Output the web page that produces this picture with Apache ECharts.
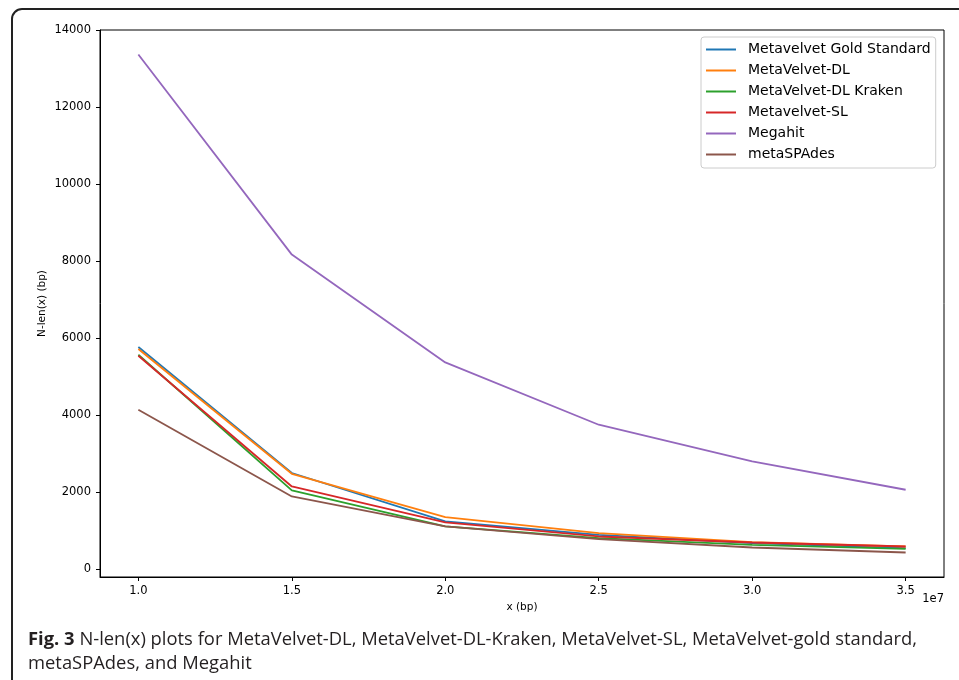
<!DOCTYPE html>
<html><head><meta charset="utf-8">
<script src="https://cdn.jsdelivr.net/npm/echarts@6/dist/echarts.min.js"></script>
<style>html,body{margin:0;padding:0;background:#fff}#c{width:959px;height:680px}</style>
</head><body><div id="c"></div>
<script>
// ---- data ----
const xValues = [1.0e7, 1.5e7, 2.0e7, 2.5e7, 3.0e7, 3.5e7];
const goldStandard = [5770, 2500, 1242, 895, 680, 550];
const metaVelvetDL = [5720, 2480, 1355, 940, 706, 592];
const dlKraken = [5570, 2050, 1112, 810, 636, 532];
const metaVelvetSL = [5545, 2150, 1216, 852, 696, 592];
const megahit = [13364, 8170, 5371, 3753, 2800, 2065];
const metaSPAdes = [4143, 1891, 1112, 784, 566, 436];
const seriesNames = ['Metavelvet Gold Standard', 'MetaVelvet-DL', 'MetaVelvet-DL Kraken', 'Metavelvet-SL', 'Megahit', 'metaSPAdes'];
const xTickValues = [1.0e7, 1.5e7, 2.0e7, 2.5e7, 3.0e7, 3.5e7];
const yTickValues = [0, 2000, 4000, 6000, 8000, 10000, 12000, 14000];
const xAxisTitle = 'x (bp)';
const yAxisTitle = 'N-len(x) (bp)';
const offsetText = '1e7';
const captionBold = 'Fig. 3';
const captionLine1 = ' N-len(x) plots for MetaVelvet-DL, MetaVelvet-DL-Kraken, MetaVelvet-SL, MetaVelvet-gold standard,';
const captionLine2 = 'metaSPAdes, and Megahit';

const colors = ['#1f77b4', '#ff7f0e', '#2ca02c', '#d62728', '#9467bd', '#8c564b'];
const allSeries = [goldStandard, metaVelvetDL, dlKraken, metaVelvetSL, megahit, metaSPAdes];

// caption condensing
const capFont = '"Open Sans", sans-serif';
const capSize = 18.5;
const cv = document.createElement('canvas').getContext('2d');
cv.font = 'bold ' + capSize + 'px ' + capFont;
const wB = cv.measureText(captionBold).width;
cv.font = capSize + 'px ' + capFont;
const wR = cv.measureText(captionLine1).width;
const capScale = 889 / (wB + wR);

const chart = echarts.init(document.getElementById('c'), null, {renderer: 'canvas'});
const tickFont = {fontFamily: 'DejaVu Sans', fontSize: 11.5, color: '#000'};

chart.setOption({
  animation: false,
  backgroundColor: '#fff',
  color: colors,
  grid: {left: 100, top: 30, right: 15, bottom: 103, show: true, borderColor: '#000', borderWidth: 1},
  legend: {
    orient: 'vertical', left: 701, top: 37,
    padding: [5, 5, 6, 5],
    icon: 'rect', itemWidth: 30, itemHeight: 2, itemGap: 6,
    backgroundColor: 'rgba(255,255,255,0.85)', borderColor: '#cccccc', borderWidth: 1, borderRadius: 3,
    textStyle: {fontFamily: 'DejaVu Sans', fontSize: 14, color: '#000', lineHeight: 15, padding: [0, 0, 0, 7]},
    data: seriesNames
  },
  xAxis: {
    type: 'value', min: 0.875e7, max: 3.625e7,
    splitLine: {show: false},
    axisLine: {show: true, onZero: false, lineStyle: {color: '#000', width: 1}},
    axisTick: {show: true, length: 4, lineStyle: {color: '#000'}, customValues: xTickValues},
    axisLabel: Object.assign({margin: 8, customValues: xTickValues, formatter: v => (v / 1e7).toFixed(1)}, tickFont),
    name: xAxisTitle, nameLocation: 'middle', nameGap: 25, nameMoveOverlap: false,
    nameTextStyle: {fontFamily: 'DejaVu Sans', fontSize: 10.5, color: '#000'}
  },
  yAxis: {
    type: 'value', min: -200, max: 14000,
    splitLine: {show: false},
    axisLine: {show: true, onZero: false, lineStyle: {color: '#000', width: 1}},
    axisTick: {show: true, length: 4, lineStyle: {color: '#000'}, customValues: yTickValues},
    axisLabel: Object.assign({margin: 9, customValues: yTickValues, formatter: v => String(v)}, tickFont),
    name: yAxisTitle, nameLocation: 'middle', nameGap: 52, nameMoveOverlap: false,
    nameTextStyle: {fontFamily: 'DejaVu Sans', fontSize: 10.5, color: '#000'}
  },
  series: allSeries.map((arr, i) => ({
    name: seriesNames[i], type: 'line', symbol: 'none',
    lineStyle: {width: 1.8, color: colors[i]},
    itemStyle: {color: colors[i]},
    data: arr.map((v, j) => [xValues[j], v])
  })),
  graphic: [
    {type: 'rect', shape: {x: 12, y: 9, width: 980, height: 720, r: 10}, style: {fill: 'none', stroke: '#222', lineWidth: 2}, silent: true},
    {type: 'text', x: 944, y: 599, style: {text: offsetText, fontFamily: 'DejaVu Sans', fontSize: 11.5, fill: '#000', align: 'right', verticalAlign: 'middle'}},
    {type: 'text', x: 28, y: 640, scaleX: capScale, style: {
      text: '{b|' + captionBold + '}' + captionLine1, fontFamily: capFont, fontSize: capSize, fill: '#231f20', verticalAlign: 'middle',
      rich: {b: {fontWeight: 'bold', fontFamily: capFont, fontSize: capSize, fill: '#231f20'}}}},
    {type: 'text', x: 28, y: 663.5, scaleX: capScale, style: {
      text: captionLine2, fontFamily: capFont, fontSize: capSize, fill: '#231f20', verticalAlign: 'middle'}}
  ]
});
</script></body></html>
